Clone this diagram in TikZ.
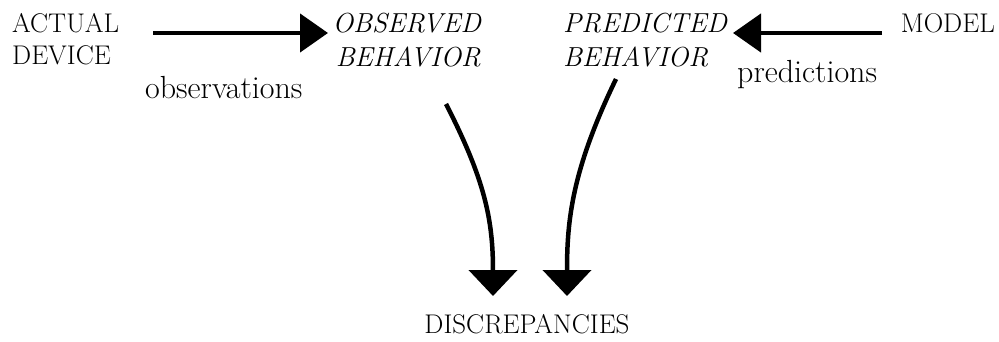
\documentclass[tikz,border=0pt]{standalone}
\usetikzlibrary{arrows.meta}
\begin{document}
\begin{tikzpicture}[x=1pt,y=-1pt,
  caps/.style={inner sep=0pt,font=\fontsize{27}{32}\selectfont},
  itcaps/.style={inner sep=0pt,font=\fontsize{27.5}{34}\selectfont\itshape},
  lab/.style={inner sep=0pt,font=\fontsize{32}{38}\selectfont},
  conn/.style={line width=4.5pt},
  headA/.style={-{Triangle[length=28pt,width=38pt]}},
  headB/.style={-{Triangle[length=26pt,width=48pt]}}]
\useasboundingbox (0,0) rectangle (999,342);
\node[caps,anchor=base west,align=left] (dev) at (12,65) {ACTUAL\\DEVICE};
\node[itcaps,anchor=base east,align=right] (obs) at (481,67) {OBSERVED\\BEHAVIOR};
\node[itcaps,anchor=base west,align=left] (pred) at (563,67) {PREDICTED\\BEHAVIOR};
\node[caps,anchor=base east] (model) at (995,33) {MODEL};
\node[lab,anchor=base west] (obsl) at (145,99) {observations};
\node[lab,anchor=base west] (predl) at (737,83) {predictions};
\node[caps,anchor=base] (disc) at (527,333) {DISCREPANCIES};
\coordinate (a1) at (153,33);
\coordinate (a2) at (328,33);
\coordinate (b1) at (882,33);
\coordinate (b2) at (733,33);
\draw[conn,headA] (a1) -- (a2);
\draw[conn,headA] (b1) -- (b2);
\coordinate (o1) at (446,104);
\coordinate (p1) at (616,79);
\coordinate (d1) at (493,296);
\coordinate (d2) at (567,296);
\draw[conn,headB] (o1) .. controls (485,180) and (493,220) .. (d1);
\draw[conn,headB] (p1) .. controls (572,170) and (567,220) .. (d2);
\end{tikzpicture}
\end{document}
